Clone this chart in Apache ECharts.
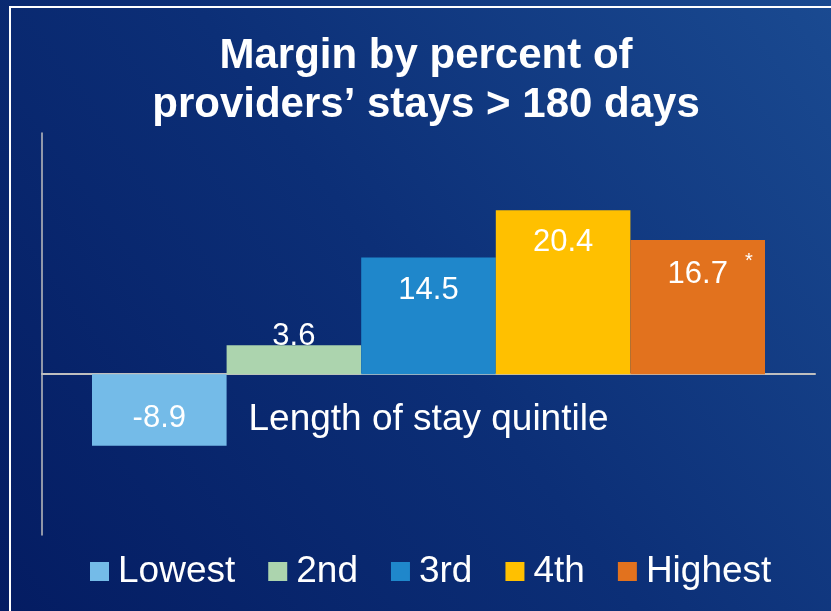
<!DOCTYPE html>
<html>
<head>
<meta charset="utf-8">
<script src="https://cdn.jsdelivr.net/npm/echarts@6/dist/echarts.min.js"></script>
<style>
    html, body { margin: 0; padding: 0; }
    #chart { width: 831px; height: 611px; }
</style>
</head>
<body>
<div id="chart"></div>
<script>
// 数据
var categories = ["Length of stay quintile"];
var quintiles = ["Lowest", "2nd", "3rd", "4th", "Highest"];
var margins = [-8.9, 3.6, 14.5, 20.4, 16.7];
var notes = ["", "", "", "", "*"];
var barColors = ["#74bbe8", "#acd4ae", "#1f87cb", "#ffc000", "#e2721e"];

(function () {
    var myChart = echarts.init(document.getElementById("chart"));
    var fontFamily = "Liberation Sans, Arial, sans-serif";

    // 每个柱子的标签位置
    function labelFor(i) {
        var v = margins[i];
        var label = {
            show: true,
            color: "#fff",
            fontSize: 31,
            fontFamily: fontFamily
        };
        if (v < 0) {
            label.position = "inside";
            label.offset = [0, 8];
        } else if (v < 6) {
            label.position = "top";
            label.distance = -7;
        } else {
            label.position = "insideTop";
            label.distance = 17;
        }
        if (notes[i]) {
            label.offset = [0, -5];
            label.formatter = function (p) {
                return "{p|}{v|" + p.value + "}{s|" + notes[i] + "}";
            };
            label.rich = {
                p: { width: 25 },
                v: { fontSize: 31, color: "#fff", fontFamily: fontFamily },
                s: { width: 25, align: "right", fontSize: 20, color: "#fff",
                     fontFamily: fontFamily, padding: [0, 0, 26, 0] }
            };
        }
        return label;
    }

    var series = quintiles.map(function (name, i) {
        return {
            name: name,
            type: "bar",
            barWidth: 134.6,
            barGap: "0%",
            data: [margins[i]],
            itemStyle: { color: barColors[i] },
            label: labelFor(i)
        };
    });

    var option = {
        backgroundColor: new echarts.graphic.LinearGradient(0, 1, 1, 0, [
            { offset: 0, color: "#041c62" },
            { offset: 0.5, color: "#0c2f77" },
            { offset: 1, color: "#1a4a91" }
        ]),
        color: barColors,
        title: {
            text: "Margin by percent of\nproviders\u2019 stays > 180 days",
            left: 421,
            textAlign: "center",
            top: 27,
            textStyle: {
                color: "#fff",
                fontSize: 42,
                fontWeight: "bold",
                lineHeight: 49,
                fontFamily: fontFamily
            }
        },
        graphic: [{
            type: "rect",
            shape: { x: 10, y: 7, width: 900, height: 700 },
            style: { fill: "none", stroke: "#fff", lineWidth: 2 },
            silent: true
        }],
        legend: {
            bottom: 16,
            left: 85,
            itemWidth: 19,
            itemHeight: 19,
            itemGap: 33,
            icon: "rect",
            textStyle: {
                color: "#fff",
                fontSize: 37,
                fontFamily: fontFamily,
                padding: [0, 0, 0, 4]
            },
            data: quintiles
        },
        grid: {
            left: 42,
            right: 16,
            top: 133,
            bottom: 76,
            containLabel: false
        },
        xAxis: {
            type: "category",
            data: categories,
            axisLine: { onZero: true, lineStyle: { color: "#bfbfbf", width: 2 } },
            axisTick: { show: false },
            axisLabel: {
                color: "#fff",
                fontSize: 37,
                margin: -134,
                fontFamily: fontFamily
            }
        },
        yAxis: {
            type: "value",
            min: -20,
            max: 30,
            interval: 10,
            axisLine: { show: true, lineStyle: { color: "#bfbfbf", width: 1.5 } },
            axisTick: { show: false },
            axisLabel: { show: false },
            splitLine: { show: false }
        },
        series: series
    };
    myChart.setOption(option);
    window.addEventListener("resize", function () {
        myChart.resize();
    });
})();
</script>
</body>
</html>
